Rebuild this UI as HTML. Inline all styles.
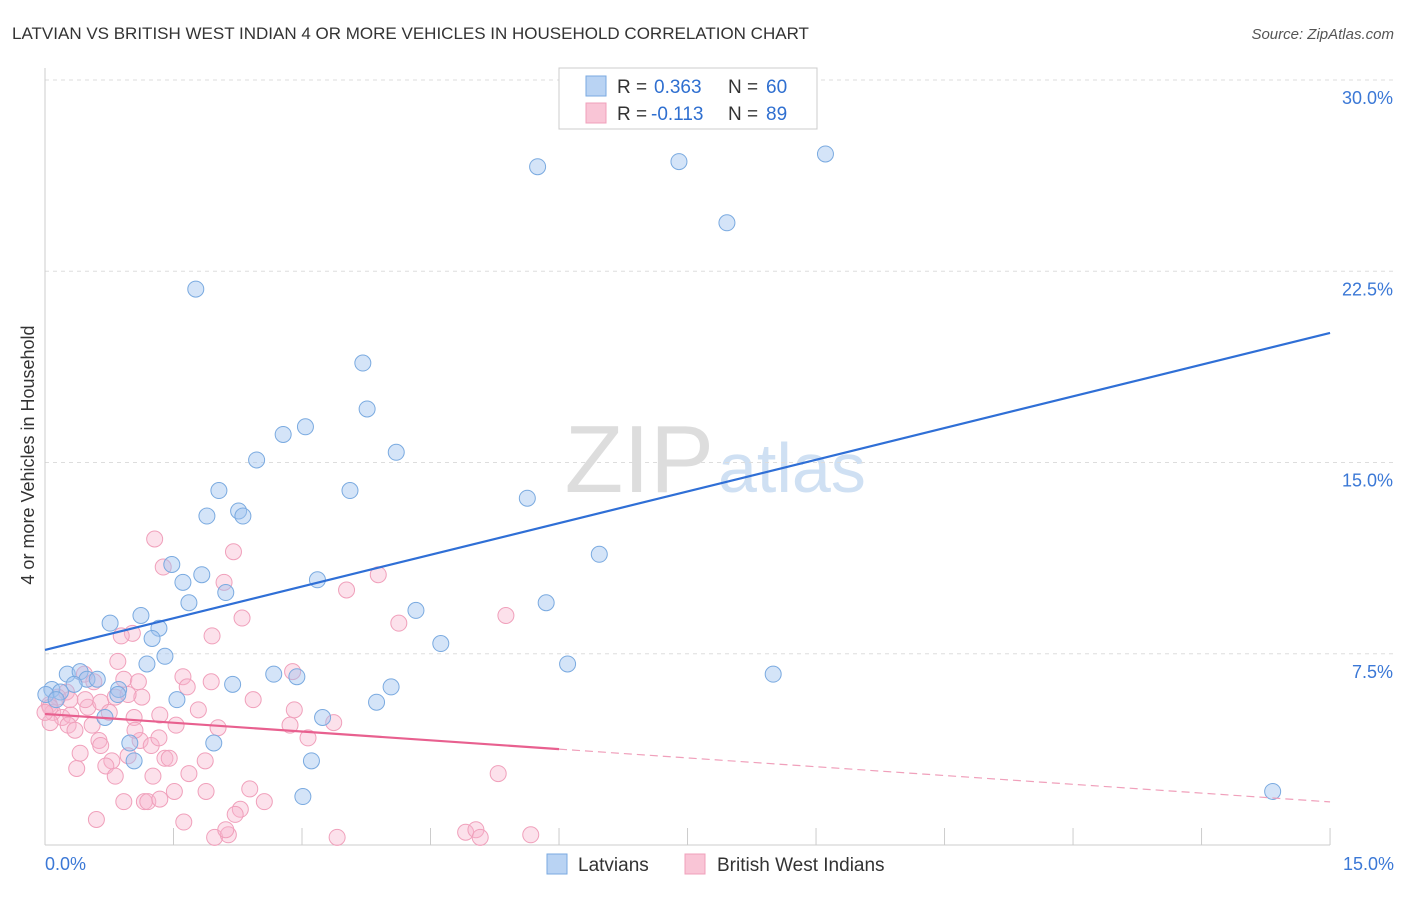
<!DOCTYPE html>
<html><head><meta charset="utf-8">
<style>
body{margin:0;background:#fff;font-family:"Liberation Sans",sans-serif;}
svg text{font-family:"Liberation Sans",sans-serif;}
</style></head>
<body>
<svg id="chart" width="1406" height="892" xmlns="http://www.w3.org/2000/svg">
<text x="12" y="39" font-size="17" fill="#333">LATVIAN VS BRITISH WEST INDIAN 4 OR MORE VEHICLES IN HOUSEHOLD CORRELATION CHART</text>
<text x="1394" y="39" font-size="15" fill="#555" text-anchor="end" font-style="italic">Source: ZipAtlas.com</text>
<text x="714" y="492" font-size="96" fill="#ddd" text-anchor="end" font-family="Liberation Serif">ZIP</text>
<text x="718" y="492" font-size="70" fill="#cfe0f3">atlas</text>
<text transform="translate(34,455) rotate(-90)" font-size="18" fill="#333" text-anchor="middle">4 or more Vehicles in Household</text>
<g id="grid"></g><g id="axes"></g><g id="pts"></g><g id="lines"></g>
<g>
<rect x="559" y="68" width="258" height="61" fill="#fff" stroke="#ccc"/>
<rect x="586" y="76" width="20" height="20" fill="#b9d3f3" stroke="#7aaae0"/>
<rect x="586" y="103" width="20" height="20" fill="#f9c5d6" stroke="#f0a0bb"/>
<text x="617" y="93" font-size="19" fill="#333">R = </text>
<text x="654" y="93" font-size="19" fill="#2f6fd0">0.363</text>
<text x="728" y="93" font-size="19" fill="#333">N = </text>
<text x="766" y="93" font-size="19" fill="#2f6fd0">60</text>
<text x="617" y="120" font-size="19" fill="#333">R = </text>
<text x="651" y="120" font-size="19" fill="#2f6fd0">-0.113</text>
<text x="728" y="120" font-size="19" fill="#333">N = </text>
<text x="766" y="120" font-size="19" fill="#2f6fd0">89</text>
</g>
<g>
<rect x="547" y="854" width="20" height="20" fill="#b9d3f3" stroke="#7aaae0"/>
<text x="578" y="871" font-size="19" fill="#333">Latvians</text>
<rect x="685" y="854" width="20" height="20" fill="#f9c5d6" stroke="#f0a0bb"/>
<text x="717" y="871" font-size="19" fill="#333">British West Indians</text>
</g>
</svg>
<script>
const yTicks=[7.5,15,22.5,30];
const xTickLabels=["0.0%","15.0%"];
const blueX=[5.75,7.40,9.11,7.96,1.76,3.71,3.76,3.04,2.78,4.10,2.47,2.03,3.56,5.63,1.89,2.26,2.31,6.47,1.48,1.61,1.83,3.18,2.11,5.85,1.68,4.33,1.12,0.76,1.33,1.25,4.62,1.40,1.19,6.10,0.26,0.41,0.49,0.61,0.34,0.08,0.18,0.01,0.86,0.85,2.67,2.94,2.19,4.04,1.54,3.87,3.24,0.70,0.99,1.97,1.04,3.11,3.01,14.33,8.50,0.13];
const blueY=[26.6,26.8,27.1,24.4,21.8,18.9,17.1,16.4,16.1,15.4,15.1,13.9,13.9,13.6,12.9,13.1,12.9,11.4,11.0,10.3,10.6,10.4,9.9,9.5,9.5,9.2,9.0,8.7,8.5,8.1,7.9,7.4,7.1,7.1,6.7,6.8,6.5,6.5,6.3,6.1,6.0,5.9,6.1,5.9,6.7,6.6,6.3,6.2,5.7,5.6,5.0,5.0,4.0,4.0,3.3,3.3,1.9,2.1,6.7,5.7];
const pinkX=[1.28,2.20,1.38,2.09,3.52,3.89,5.38,4.13,2.30,1.02,0.89,1.95,0.85,1.61,0.46,2.89,1.94,1.66,0.92,1.09,0.25,0.15,0.05,0.09,0.20,0.30,0.50,0.65,0.82,1.13,0.75,1.04,1.34,1.53,2.02,2.43,2.91,3.37,0.55,0.27,0.06,1.11,1.24,1.33,0.63,0.65,0.41,0.97,1.40,1.45,0.78,0.37,0.71,0.82,1.26,1.68,1.51,1.88,1.16,1.20,0.92,2.56,2.28,2.22,1.62,0.60,1.98,2.14,2.11,3.41,4.91,5.03,5.08,5.67,5.29,0.06,0.00,3.07,1.05,0.97,1.79,2.86,0.57,0.47,0.35,0.29,1.34,2.39,1.87];
const pinkY=[12.0,11.5,10.9,10.3,10.0,10.6,9.0,8.7,8.9,8.3,8.2,8.2,7.2,6.6,6.7,6.8,6.4,6.2,6.5,6.4,6.0,5.8,5.5,5.2,5.0,5.1,5.4,5.6,5.8,5.8,5.2,5.0,5.1,4.7,4.6,5.7,5.3,4.8,4.7,4.7,4.8,4.1,3.9,4.2,4.1,3.9,3.6,3.5,3.4,3.4,3.3,3.0,3.1,2.7,2.7,2.8,2.1,2.1,1.7,1.7,1.7,1.7,1.4,1.2,0.9,1.0,0.3,0.4,0.6,0.3,0.5,0.6,0.3,0.4,2.8,5.4,5.2,4.2,4.5,5.9,5.3,4.7,6.4,5.7,4.5,5.7,1.8,2.2,3.3];
const blueTrend=[7.65,20.08];
const pinkTrend=[5.14,1.69];
const pinkSolidEnd=6.0;
const X=v=>45+v*85.67, Y=v=>845-v*25.5;
const NS="http://www.w3.org/2000/svg";
function mk(p,t,a){const e=document.createElementNS(NS,t);for(const k in a)e.setAttribute(k,a[k]);p.appendChild(e);return e;}
const grid=document.getElementById('grid'),axes=document.getElementById('axes'),pts=document.getElementById('pts'),lines=document.getElementById('lines');
yTicks.forEach(t=>{
 const l=mk(grid,'line',{x1:45,x2:1394,y1:Y(t),y2:Y(t),stroke:'#ddd','stroke-dasharray':'4,4'});
 
 
 const tx=mk(grid,'text',{x:1393,y:Y(t)+24,'font-size':18,fill:'#3b78d6','text-anchor':'end'});
 tx.textContent=t.toFixed(1)+'%';
 
 
});
mk(axes,'line',{x1:45,x2:45,y1:68,y2:845,stroke:'#ccc'});
mk(axes,'line',{x1:45,x2:1330,y1:845,y2:845,stroke:'#ccc'});
for(let i=1;i<=10;i++){const x=X(i*1.5);mk(axes,'line',{x1:x,x2:x,y1:828,y2:845,stroke:'#ccc'});}
[[0,'start',45],[15,'end',1394]].forEach((d,i)=>{
 const tx=mk(axes,'text',{x:d[2],y:870,'font-size':18,fill:'#3b78d6','text-anchor':d[1]});
 tx.textContent=xTickLabels[i];
 
 
});
pinkX.forEach((x,i)=>{
 const c=mk(pts,'circle',{cx:X(x),cy:Y(pinkY[i]),r:8,fill:'rgba(248,180,205,0.4)',stroke:'#f0a0bb','stroke-width':1});
 
 
});
blueX.forEach((x,i)=>{
 const c=mk(pts,'circle',{cx:X(x),cy:Y(blueY[i]),r:8,fill:'rgba(160,196,240,0.45)',stroke:'#7aaae0','stroke-width':1});
 
 
});
const bl=mk(lines,'line',{x1:X(0),y1:Y(blueTrend[0]),x2:X(15),y2:Y(blueTrend[1]),stroke:'#2f6fd6','stroke-width':2.2});


const pAt=v=>pinkTrend[0]+(pinkTrend[1]-pinkTrend[0])*v/15;
const pl=mk(lines,'line',{x1:X(0),y1:Y(pinkTrend[0]),x2:X(pinkSolidEnd),y2:Y(pAt(pinkSolidEnd)),stroke:'#e8608f','stroke-width':2.2});


const pd=mk(lines,'line',{x1:X(pinkSolidEnd),y1:Y(pAt(pinkSolidEnd)),x2:X(15),y2:Y(pinkTrend[1]),stroke:'#f0a0bb','stroke-width':1.2,'stroke-dasharray':'8,5'});


</script>
</body></html>
